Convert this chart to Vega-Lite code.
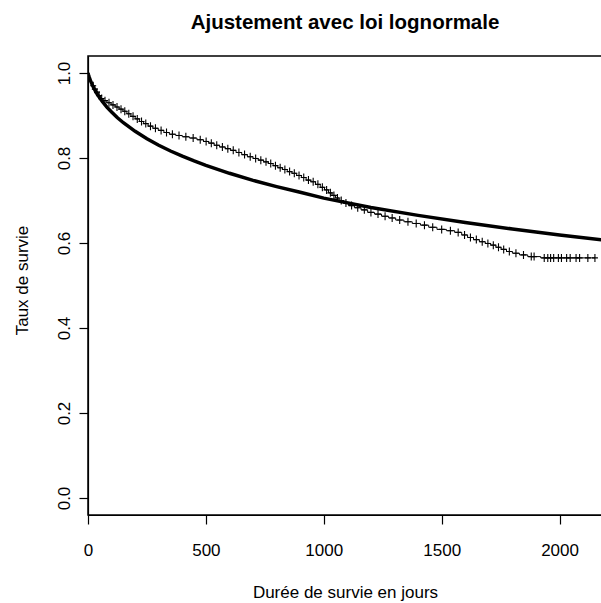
{
  "$schema": "https://vega.github.io/schema/vega-lite/v6.json",
  "autosize": "none",
  "width": 514,
  "height": 459,
  "padding": {"left": 88, "top": 56, "right": 0, "bottom": 88},
  "background": "white",
  "title": {
    "text": "Ajustement avec loi lognormale",
    "font": "Liberation Sans",
    "fontSize": 20.5,
    "fontWeight": "bold",
    "color": "black",
    "anchor": "middle",
    "baseline": "alphabetic",
    "offset": 7
  },
  "config": {
    "view": {"stroke": "black", "strokeWidth": 1.5},
    "axis": {
      "labelFont": "Liberation Sans",
      "titleFont": "Liberation Sans",
      "labelFontSize": 17,
      "titleFontSize": 17,
      "titleFontWeight": "normal",
      "labelColor": "black",
      "titleColor": "black",
      "tickColor": "black",
      "domainColor": "black",
      "tickSize": 9,
      "tickWidth": 1.2,
      "domainWidth": 1.2,
      "grid": false,
      "labelFlush": false,
      "labelOverlap": false
    }
  },
  "datasets": {
    "km": [
      {"jour": 0, "survie": 1.0, "censure": 0},
      {"jour": 3, "survie": 0.993, "censure": 0},
      {"jour": 7, "survie": 0.986, "censure": 0},
      {"jour": 12, "survie": 0.978, "censure": 0},
      {"jour": 18, "survie": 0.97, "censure": 0},
      {"jour": 22, "survie": 0.97, "censure": 1},
      {"jour": 25, "survie": 0.962, "censure": 0},
      {"jour": 29, "survie": 0.962, "censure": 1},
      {"jour": 33, "survie": 0.955, "censure": 0},
      {"jour": 38, "survie": 0.955, "censure": 1},
      {"jour": 42, "survie": 0.947, "censure": 0},
      {"jour": 47, "survie": 0.947, "censure": 1},
      {"jour": 52, "survie": 0.94, "censure": 0},
      {"jour": 58, "survie": 0.94, "censure": 1},
      {"jour": 65, "survie": 0.935, "censure": 0},
      {"jour": 72, "survie": 0.935, "censure": 1},
      {"jour": 80, "survie": 0.93, "censure": 0},
      {"jour": 89, "survie": 0.93, "censure": 1},
      {"jour": 98, "survie": 0.925, "censure": 0},
      {"jour": 106, "survie": 0.925, "censure": 1},
      {"jour": 115, "survie": 0.92, "censure": 0},
      {"jour": 123, "survie": 0.92, "censure": 1},
      {"jour": 132, "survie": 0.915, "censure": 0},
      {"jour": 140, "survie": 0.915, "censure": 1},
      {"jour": 148, "survie": 0.91, "censure": 0},
      {"jour": 156, "survie": 0.91, "censure": 1},
      {"jour": 165, "survie": 0.904, "censure": 0},
      {"jour": 173, "survie": 0.904, "censure": 1},
      {"jour": 182, "survie": 0.898, "censure": 0},
      {"jour": 191, "survie": 0.898, "censure": 1},
      {"jour": 200, "survie": 0.892, "censure": 0},
      {"jour": 209, "survie": 0.892, "censure": 1},
      {"jour": 218, "survie": 0.886, "censure": 0},
      {"jour": 227, "survie": 0.886, "censure": 1},
      {"jour": 236, "survie": 0.881, "censure": 0},
      {"jour": 245, "survie": 0.881, "censure": 1},
      {"jour": 255, "survie": 0.875, "censure": 0},
      {"jour": 265, "survie": 0.875, "censure": 1},
      {"jour": 275, "survie": 0.87, "censure": 0},
      {"jour": 286, "survie": 0.87, "censure": 1},
      {"jour": 298, "survie": 0.865, "censure": 0},
      {"jour": 310, "survie": 0.865, "censure": 1},
      {"jour": 322, "survie": 0.86, "censure": 0},
      {"jour": 333, "survie": 0.86, "censure": 1},
      {"jour": 345, "survie": 0.856, "censure": 0},
      {"jour": 358, "survie": 0.856, "censure": 1},
      {"jour": 372, "survie": 0.853, "censure": 0},
      {"jour": 386, "survie": 0.853, "censure": 1},
      {"jour": 400, "survie": 0.85, "censure": 0},
      {"jour": 415, "survie": 0.85, "censure": 1},
      {"jour": 430, "survie": 0.847, "censure": 0},
      {"jour": 446, "survie": 0.847, "censure": 1},
      {"jour": 462, "survie": 0.843, "censure": 0},
      {"jour": 476, "survie": 0.843, "censure": 1},
      {"jour": 490, "survie": 0.839, "censure": 0},
      {"jour": 501, "survie": 0.839, "censure": 1},
      {"jour": 512, "survie": 0.835, "censure": 0},
      {"jour": 523, "survie": 0.835, "censure": 1},
      {"jour": 535, "survie": 0.83, "censure": 0},
      {"jour": 546, "survie": 0.83, "censure": 1},
      {"jour": 558, "survie": 0.826, "censure": 0},
      {"jour": 570, "survie": 0.826, "censure": 1},
      {"jour": 582, "survie": 0.822, "censure": 0},
      {"jour": 593, "survie": 0.822, "censure": 1},
      {"jour": 605, "survie": 0.818, "censure": 0},
      {"jour": 616, "survie": 0.818, "censure": 1},
      {"jour": 628, "survie": 0.813, "censure": 0},
      {"jour": 640, "survie": 0.813, "censure": 1},
      {"jour": 652, "survie": 0.808, "censure": 0},
      {"jour": 664, "survie": 0.808, "censure": 1},
      {"jour": 676, "survie": 0.803, "censure": 0},
      {"jour": 688, "survie": 0.803, "censure": 1},
      {"jour": 700, "survie": 0.799, "censure": 0},
      {"jour": 711, "survie": 0.799, "censure": 1},
      {"jour": 722, "survie": 0.795, "censure": 0},
      {"jour": 733, "survie": 0.795, "censure": 1},
      {"jour": 745, "survie": 0.791, "censure": 0},
      {"jour": 755, "survie": 0.791, "censure": 1},
      {"jour": 765, "survie": 0.787, "censure": 0},
      {"jour": 775, "survie": 0.787, "censure": 1},
      {"jour": 785, "survie": 0.782, "censure": 0},
      {"jour": 795, "survie": 0.782, "censure": 1},
      {"jour": 805, "survie": 0.777, "censure": 0},
      {"jour": 815, "survie": 0.777, "censure": 1},
      {"jour": 825, "survie": 0.773, "censure": 0},
      {"jour": 835, "survie": 0.773, "censure": 1},
      {"jour": 845, "survie": 0.768, "censure": 0},
      {"jour": 855, "survie": 0.768, "censure": 1},
      {"jour": 865, "survie": 0.764, "censure": 0},
      {"jour": 875, "survie": 0.764, "censure": 1},
      {"jour": 885, "survie": 0.759, "censure": 0},
      {"jour": 895, "survie": 0.759, "censure": 1},
      {"jour": 905, "survie": 0.754, "censure": 0},
      {"jour": 915, "survie": 0.754, "censure": 1},
      {"jour": 925, "survie": 0.748, "censure": 0},
      {"jour": 935, "survie": 0.748, "censure": 1},
      {"jour": 945, "survie": 0.744, "censure": 0},
      {"jour": 955, "survie": 0.744, "censure": 1},
      {"jour": 965, "survie": 0.738, "censure": 0},
      {"jour": 975, "survie": 0.738, "censure": 1},
      {"jour": 985, "survie": 0.731, "censure": 0},
      {"jour": 994, "survie": 0.731, "censure": 1},
      {"jour": 1003, "survie": 0.725, "censure": 0},
      {"jour": 1012, "survie": 0.725, "censure": 1},
      {"jour": 1020, "survie": 0.718, "censure": 0},
      {"jour": 1028, "survie": 0.718, "censure": 1},
      {"jour": 1035, "survie": 0.712, "censure": 0},
      {"jour": 1043, "survie": 0.712, "censure": 1},
      {"jour": 1050, "survie": 0.706, "censure": 0},
      {"jour": 1058, "survie": 0.706, "censure": 1},
      {"jour": 1065, "survie": 0.7, "censure": 0},
      {"jour": 1074, "survie": 0.7, "censure": 1},
      {"jour": 1082, "survie": 0.694, "censure": 0},
      {"jour": 1094, "survie": 0.694, "censure": 1},
      {"jour": 1105, "survie": 0.688, "censure": 0},
      {"jour": 1118, "survie": 0.688, "censure": 1},
      {"jour": 1130, "survie": 0.683, "censure": 0},
      {"jour": 1144, "survie": 0.683, "censure": 1},
      {"jour": 1158, "survie": 0.678, "censure": 0},
      {"jour": 1172, "survie": 0.678, "censure": 1},
      {"jour": 1186, "survie": 0.672, "censure": 0},
      {"jour": 1200, "survie": 0.672, "censure": 1},
      {"jour": 1215, "survie": 0.668, "censure": 0},
      {"jour": 1230, "survie": 0.668, "censure": 1},
      {"jour": 1245, "survie": 0.663, "censure": 0},
      {"jour": 1260, "survie": 0.663, "censure": 1},
      {"jour": 1275, "survie": 0.659, "censure": 0},
      {"jour": 1290, "survie": 0.659, "censure": 1},
      {"jour": 1305, "survie": 0.654, "censure": 0},
      {"jour": 1322, "survie": 0.654, "censure": 1},
      {"jour": 1340, "survie": 0.65, "censure": 0},
      {"jour": 1357, "survie": 0.65, "censure": 1},
      {"jour": 1375, "survie": 0.646, "censure": 0},
      {"jour": 1392, "survie": 0.646, "censure": 1},
      {"jour": 1410, "survie": 0.642, "censure": 0},
      {"jour": 1427, "survie": 0.642, "censure": 1},
      {"jour": 1445, "survie": 0.637, "censure": 0},
      {"jour": 1462, "survie": 0.637, "censure": 1},
      {"jour": 1480, "survie": 0.632, "censure": 0},
      {"jour": 1500, "survie": 0.632, "censure": 1},
      {"jour": 1520, "survie": 0.629, "censure": 0},
      {"jour": 1537, "survie": 0.629, "censure": 1},
      {"jour": 1555, "survie": 0.625, "censure": 0},
      {"jour": 1570, "survie": 0.625, "censure": 1},
      {"jour": 1585, "survie": 0.619, "censure": 0},
      {"jour": 1597, "survie": 0.619, "censure": 1},
      {"jour": 1610, "survie": 0.613, "censure": 0},
      {"jour": 1622, "survie": 0.613, "censure": 1},
      {"jour": 1635, "survie": 0.608, "censure": 0},
      {"jour": 1647, "survie": 0.608, "censure": 1},
      {"jour": 1660, "survie": 0.603, "censure": 0},
      {"jour": 1672, "survie": 0.603, "censure": 1},
      {"jour": 1685, "survie": 0.599, "censure": 0},
      {"jour": 1696, "survie": 0.599, "censure": 1},
      {"jour": 1708, "survie": 0.595, "censure": 0},
      {"jour": 1719, "survie": 0.595, "censure": 1},
      {"jour": 1730, "survie": 0.59, "censure": 0},
      {"jour": 1741, "survie": 0.59, "censure": 1},
      {"jour": 1752, "survie": 0.585, "censure": 0},
      {"jour": 1763, "survie": 0.585, "censure": 1},
      {"jour": 1775, "survie": 0.58, "censure": 0},
      {"jour": 1787, "survie": 0.58, "censure": 1},
      {"jour": 1800, "survie": 0.576, "censure": 0},
      {"jour": 1815, "survie": 0.576, "censure": 1},
      {"jour": 1830, "survie": 0.572, "censure": 0},
      {"jour": 1847, "survie": 0.572, "censure": 1},
      {"jour": 1865, "survie": 0.568, "censure": 0},
      {"jour": 1880, "survie": 0.568, "censure": 1},
      {"jour": 1892, "survie": 0.568, "censure": 1},
      {"jour": 1920, "survie": 0.565, "censure": 0},
      {"jour": 1935, "survie": 0.565, "censure": 1},
      {"jour": 1950, "survie": 0.565, "censure": 1},
      {"jour": 1962, "survie": 0.565, "censure": 1},
      {"jour": 1975, "survie": 0.565, "censure": 1},
      {"jour": 1995, "survie": 0.565, "censure": 1},
      {"jour": 2008, "survie": 0.565, "censure": 1},
      {"jour": 2030, "survie": 0.565, "censure": 1},
      {"jour": 2045, "survie": 0.565, "censure": 1},
      {"jour": 2070, "survie": 0.565, "censure": 1},
      {"jour": 2085, "survie": 0.565, "censure": 1},
      {"jour": 2120, "survie": 0.565, "censure": 1},
      {"jour": 2150, "survie": 0.565, "censure": 1}
    ],
    "lognormale": [
      {"jour": 0, "survie": 1.0},
      {"jour": 1, "survie": 0.998},
      {"jour": 2, "survie": 0.996},
      {"jour": 5, "survie": 0.9905},
      {"jour": 10, "survie": 0.9826},
      {"jour": 20, "survie": 0.9697},
      {"jour": 30, "survie": 0.9589},
      {"jour": 40, "survie": 0.9495},
      {"jour": 60, "survie": 0.9335},
      {"jour": 80, "survie": 0.9198},
      {"jour": 100, "survie": 0.9081},
      {"jour": 125, "survie": 0.8947},
      {"jour": 150, "survie": 0.883},
      {"jour": 200, "survie": 0.8628},
      {"jour": 250, "survie": 0.8454},
      {"jour": 300, "survie": 0.83},
      {"jour": 350, "survie": 0.8165},
      {"jour": 400, "survie": 0.8043},
      {"jour": 450, "survie": 0.793},
      {"jour": 500, "survie": 0.7826},
      {"jour": 600, "survie": 0.764},
      {"jour": 700, "survie": 0.7473},
      {"jour": 800, "survie": 0.7327},
      {"jour": 900, "survie": 0.7194},
      {"jour": 1000, "survie": 0.7055},
      {"jour": 1200, "survie": 0.6835},
      {"jour": 1400, "survie": 0.665},
      {"jour": 1600, "survie": 0.648},
      {"jour": 1800, "survie": 0.633},
      {"jour": 2000, "survie": 0.619},
      {"jour": 2200, "survie": 0.606}
    ]
  },
  "layer": [
    {
      "data": {"name": "km"},
      "mark": {"type": "line", "interpolate": "step-after", "color": "black", "strokeWidth": 1, "clip": true},
      "encoding": {
        "x": {
          "field": "jour",
          "type": "quantitative",
          "scale": {"domain": [0, 2180], "nice": false, "zero": false},
          "axis": {
            "values": [0, 500, 1000, 1500, 2000],
            "format": "d",
            "title": "Durée de survie en jours",
            "labelPadding": 18,
            "titleBaseline": "alphabetic",
            "titleAnchor": "middle",
            "titleX": 257,
            "titleY": 82
          }
        },
        "y": {
          "field": "survie",
          "type": "quantitative",
          "scale": {"domain": [-0.04, 1.04], "nice": false, "zero": false},
          "axis": {
            "values": [0, 0.2, 0.4, 0.6, 0.8, 1.0],
            "format": ".1f",
            "title": "Taux de survie",
            "labelAngle": 270,
            "labelAlign": "center",
            "labelBaseline": "alphabetic",
            "labelPadding": 10,
            "titleAngle": 270,
            "titleAlign": "center",
            "titleBaseline": "alphabetic",
            "titleX": -61,
            "titleY": 224
          }
        }
      }
    },
    {
      "data": {"name": "km"},
      "transform": [{"filter": "datum.censure == 1"}],
      "mark": {"type": "point", "shape": "M-0.75,0H0.75M0,-1V1", "filled": false, "stroke": "black", "strokeWidth": 1.1, "size": 64, "opacity": 1, "clip": true},
      "encoding": {
        "x": {"field": "jour", "type": "quantitative"},
        "y": {"field": "survie", "type": "quantitative"}
      }
    },
    {
      "data": {"name": "lognormale"},
      "mark": {"type": "line", "color": "black", "strokeWidth": 3.5, "clip": true},
      "encoding": {
        "x": {"field": "jour", "type": "quantitative"},
        "y": {"field": "survie", "type": "quantitative"}
      }
    }
  ]
}
